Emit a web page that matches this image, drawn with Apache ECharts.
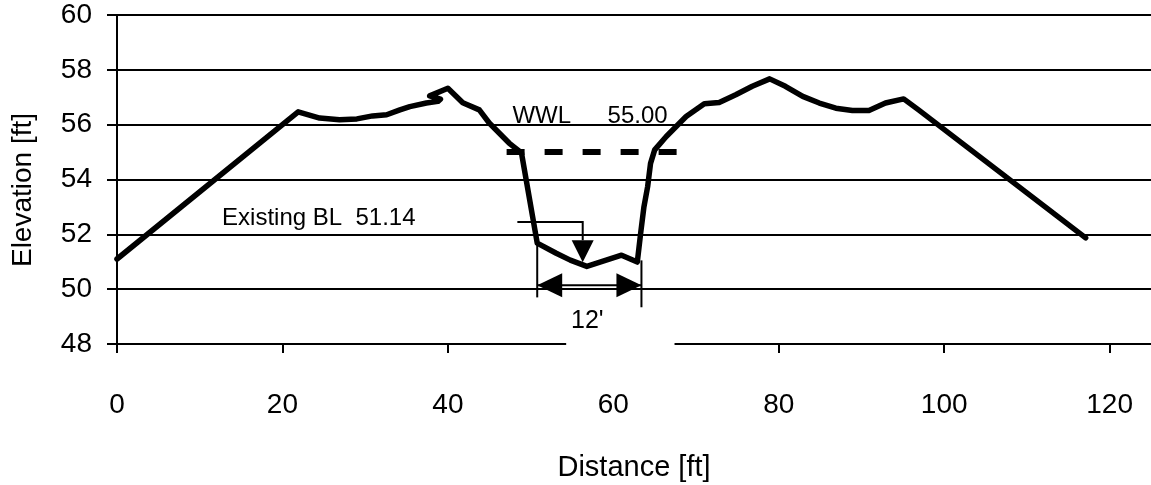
<!DOCTYPE html>
<html>
<head>
<meta charset="utf-8">
<title>Cross section</title>
<script src="https://cdn.jsdelivr.net/npm/echarts@6/dist/echarts.min.js"></script>
<style>
  html, body { margin: 0; padding: 0; background: #fff; }
  #chart { width: 1151px; height: 485px; }
</style>
</head>
<body>
<div id="chart"></div>
<script>
// ground profile (distance ft, elevation ft)
const distance = [0, 21.9, 24.5, 26.9, 29, 30.9, 32.6, 34.2, 35.4, 37.4, 38.8, 39.1, 37.8, 40.0,
  41.8, 43.8, 45, 47.4, 48.9, 50.8, 53.1, 54.8, 56.8, 61, 62.9, 63.3, 63.7, 64.15, 64.5, 65,
  66.4, 68.8, 71, 72.8, 74.8, 76.8, 78.9, 80.8, 82.9, 84.9, 86.9, 88.9, 90.9, 92.9, 95.1, 96.9, 117.1];
const elevation = [51.1, 56.47, 56.24, 56.18, 56.21, 56.32, 56.36, 56.54, 56.66, 56.79, 56.85, 56.93, 57.05, 57.33,
  56.8, 56.54, 56.06, 55.33, 54.97, 51.68, 51.31, 51.06, 50.83, 51.24, 50.99, 52.03, 53.0, 53.74, 54.59, 55.08,
  55.57, 56.3, 56.76, 56.81, 57.09, 57.4, 57.67, 57.4, 57.03, 56.79, 56.6, 56.52, 56.52, 56.79, 56.94, 56.54, 51.87];

// water level line
const wwlLevel = 55.0;
const wwlExtent = [47.1, 68.1];
const wwlText = ['WWL', '55.00'];
const wwlTextX = [47.8, 59.3];
const wwlTextY = 56.3;

// existing bed level callout
const blText = 'Existing BL  51.14';
const blTextAt = [12.7, 52.6];
const blLeaderX = [48.4, 56.3];
const blLeaderY = 52.45;
const blArrowTip = 50.98;

// 12' bottom width dimension
const dimText = "12'";
const dimX = [50.8, 63.4];
const dimExtTop = [51.68, 51.05];
const dimExtBottom = [49.7, 49.34];
const dimY = 50.14;
const dimTextAt = [56.86, 48.82];
const dimMaskX = [54.3, 67.4];
const dimMaskY = [49.15, 47.45];

const xTicks = { min: 0, max: 125, interval: 20 };
const yTicks = { min: 48, max: 60, interval: 2 };

const profile = distance.map((d, i) => [d, elevation[i]]);
const font = "'Liberation Sans', Arial, sans-serif";

function renderNotes(params, api) {
  const p = (x, y) => api.coord([x, y]);
  const thin = { stroke: '#000', lineWidth: 2 };
  const kids = [];
  // white text box of the 12' label, hides part of the axis
  const m0 = p(dimMaskX[0], dimMaskY[0]);
  const m1 = p(dimMaskX[1], dimMaskY[1]);
  kids.push({ type: 'rect', shape: { x: m0[0], y: m0[1], width: m1[0] - m0[0], height: m1[1] - m0[1] },
    style: { fill: '#fff' } });
  // extension lines
  for (let i = 0; i < 2; i++) {
    const a = p(dimX[i], dimExtTop[i]);
    const b = p(dimX[i], dimExtBottom[i]);
    kids.push({ type: 'line', shape: { x1: a[0], y1: a[1], x2: b[0], y2: b[1] }, style: thin });
  }
  // dimension line with arrow heads
  const l = p(dimX[0], dimY);
  const r = p(dimX[1], dimY);
  kids.push({ type: 'line', shape: { x1: l[0], y1: l[1], x2: r[0], y2: r[1] }, style: thin });
  kids.push({ type: 'polygon', shape: { points: [[l[0], l[1]], [l[0] + 25, l[1] - 12], [l[0] + 25, l[1] + 12]] },
    style: { fill: '#000' } });
  kids.push({ type: 'polygon', shape: { points: [[r[0], r[1]], [r[0] - 25, r[1] - 12], [r[0] - 25, r[1] + 12]] },
    style: { fill: '#000' } });
  const t = p(dimTextAt[0], dimTextAt[1]);
  kids.push({ type: 'text', style: { text: dimText, x: t[0], y: t[1], font: '25px ' + font, fill: '#000',
    align: 'center', verticalAlign: 'middle' } });
  // bed level leader + arrow
  const h0 = p(blLeaderX[0], blLeaderY);
  const h1 = p(blLeaderX[1], blLeaderY);
  const tip = p(blLeaderX[1], blArrowTip);
  kids.push({ type: 'polyline', shape: { points: [h0, h1, [tip[0], tip[1] - 22]] }, style: Object.assign({ fill: null }, thin) });
  kids.push({ type: 'polygon', shape: { points: [[tip[0], tip[1]], [tip[0] - 11, tip[1] - 22], [tip[0] + 11, tip[1] - 22]] },
    style: { fill: '#000' } });
  const bt = p(blTextAt[0], blTextAt[1]);
  kids.push({ type: 'text', style: { text: blText, x: bt[0], y: bt[1], font: '24px ' + font, fill: '#000',
    align: 'left', verticalAlign: 'middle' } });
  // water level labels
  for (let i = 0; i < 2; i++) {
    const w = p(wwlTextX[i], wwlTextY);
    kids.push({ type: 'text', style: { text: wwlText[i], x: w[0], y: w[1], font: '24px ' + font, fill: '#000',
      align: 'left', verticalAlign: 'middle' } });
  }
  return { type: 'group', children: kids };
}

const chart = echarts.init(document.getElementById('chart'), null, { renderer: 'canvas' });
chart.setOption({
  animation: false,
  backgroundColor: '#fff',
  grid: { left: 117, right: 0, top: 15, bottom: 141, outerBoundsMode: 'none' },
  xAxis: {
    type: 'value', min: xTicks.min, max: xTicks.max, interval: xTicks.interval,
    name: 'Distance [ft]', nameLocation: 'middle', nameGap: 109,
    nameTextStyle: { fontFamily: font, fontSize: 29, color: '#000' },
    axisLine: { show: true, onZero: false, lineStyle: { color: '#000', width: 2 } },
    axisTick: { show: true, length: 9, lineStyle: { color: '#000', width: 2 } },
    axisLabel: { fontFamily: font, fontSize: 28, color: '#000', margin: 47, showMaxLabel: false },
    splitLine: { show: false }
  },
  yAxis: {
    type: 'value', min: yTicks.min, max: yTicks.max, interval: yTicks.interval,
    name: 'Elevation [ft]', nameLocation: 'middle', nameGap: 80,
    nameTextStyle: { fontFamily: font, fontSize: 28, color: '#000', padding: [0, 21, 0, 0] },
    axisLine: { show: true, lineStyle: { color: '#000', width: 2 } },
    axisTick: { show: true, length: 10, lineStyle: { color: '#000', width: 2 } },
    axisLabel: { fontFamily: font, fontSize: 28, color: '#000', margin: 25 },
    splitLine: { show: true, lineStyle: { color: '#000', width: 2 } }
  },
  series: [
    {
      name: 'Ground', type: 'line', data: profile, symbol: 'none', smooth: false,
      lineStyle: { color: '#000', width: 5.5, join: 'round', cap: 'round' }, z: 3
    },
    {
      name: 'WWL', type: 'line', data: [[wwlExtent[0], wwlLevel], [wwlExtent[1], wwlLevel]], symbol: 'none',
      lineStyle: { color: '#000', width: 6, type: [18, 20], cap: 'butt' }, z: 3
    },
    {
      name: 'Notes', type: 'custom', data: [[dimX[0], dimY]], renderItem: renderNotes, z: 4, silent: true
    }
  ]
});
</script>
</body>
</html>
